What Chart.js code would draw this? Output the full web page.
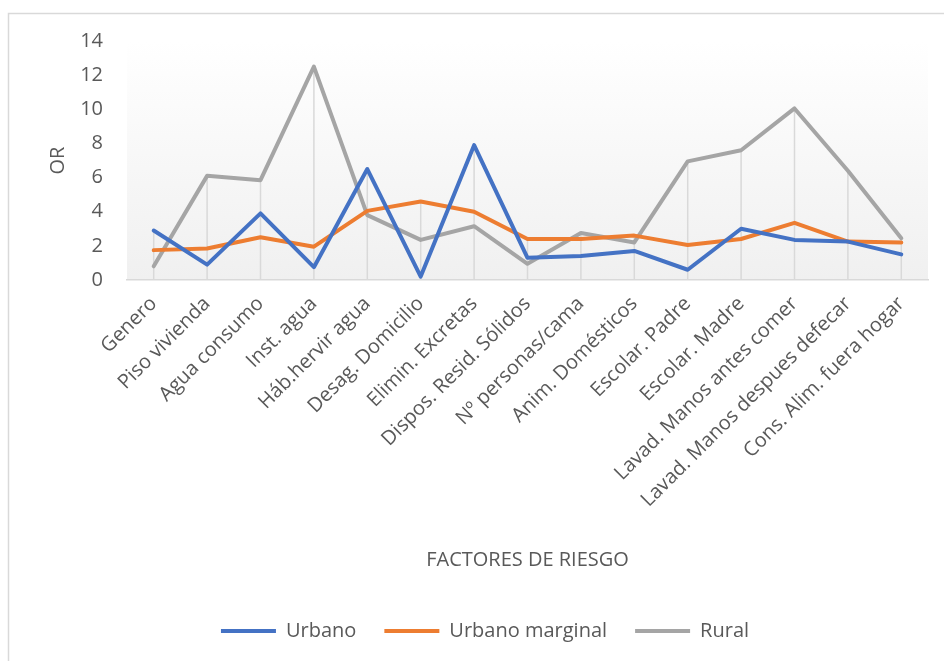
<!DOCTYPE html>
<html>
<head>
<meta charset="utf-8">
<script src="https://cdn.jsdelivr.net/npm/chart.js@4.4.0/dist/chart.umd.min.js"></script>
<style>
  html, body { margin: 0; padding: 0; background: #fff; }
  #wrap { width: 944px; height: 661px; }
</style>
</head>
<body>
<div id="wrap"><canvas id="grafico" width="944" height="661"></canvas></div>
<script>
// datos (OR por factor de riesgo)
const categorias = ['Genero', 'Piso vivienda', 'Agua consumo', 'Inst. agua', 'Háb.hervir agua',
    'Desag. Domicilio', 'Elimin. Excretas', 'Dispos. Resid. Sólidos', 'Nº personas/cama',
    'Anim. Domésticos', 'Escolar. Padre', 'Escolar. Madre', 'Lavad. Manos antes comer',
    'Lavad. Manos despues defecar', 'Cons. Alim. fuera hogar'];
const urbano = [2.9, 0.9, 3.9, 0.75, 6.5, 0.2, 7.9, 1.3, 1.4, 1.7, 0.6, 3.0, 2.35, 2.25, 1.5];
const urbanoMarginal = [1.75, 1.85, 2.5, 1.95, 4.05, 4.6, 4.0, 2.4, 2.4, 2.6, 2.05, 2.4, 3.35, 2.25, 2.2];
const rural = [0.8, 6.1, 5.85, 12.5, 3.8, 2.35, 3.15, 0.95, 2.75, 2.2, 6.95, 7.6, 10.05, 6.4, 2.45];
const yTicks = [0, 2, 4, 6, 8, 10, 12, 14];

var gris = '#595959';
var fuente = "'Open Sans', sans-serif";

// marco + fondo degradado del area de trazado
const fondo = {
    id: 'fondo',
    beforeDraw(chart) {
        const ctx = chart.ctx;
        const a = chart.chartArea;
        ctx.save();
        ctx.fillStyle = '#ffffff';
        ctx.fillRect(0, 0, chart.width, chart.height);
        ctx.strokeStyle = '#d9d9d9';
        ctx.lineWidth = 1.5;
        ctx.strokeRect(8.5, 13.5, 2000, 2000);
        const g = ctx.createLinearGradient(0, a.top, 0, a.bottom);
        g.addColorStop(0, '#ffffff');
        g.addColorStop(1, '#f0f0f0');
        ctx.fillStyle = g;
        ctx.fillRect(a.left, a.top, a.right - a.left, a.bottom - a.top);
        ctx.restore();
    }
};

// lineas de proyeccion desde el valor mas alto hasta el eje
const proyeccion = {
    id: 'proyeccion',
    beforeDatasetsDraw(chart) {
        const ctx = chart.ctx;
        const x = chart.scales.x, y = chart.scales.y;
        ctx.save();
        ctx.strokeStyle = '#d9d9d9';
        ctx.lineWidth = 1.5;
        for (let i = 0; i < categorias.length; i++) {
            const tope = Math.max(urbano[i], urbanoMarginal[i], rural[i]);
            const px = x.getPixelForValue(i);
            ctx.beginPath();
            ctx.moveTo(px, y.getPixelForValue(tope));
            ctx.lineTo(px, y.getPixelForValue(0));
            ctx.stroke();
        }
        ctx.restore();
    }
};

function serie(nombre, datos, color) {
    return {
        label: nombre,
        data: datos,
        borderColor: color,
        backgroundColor: color,
        borderWidth: 4,
        pointRadius: 0,
        borderJoinStyle: 'round',
        borderCapStyle: 'round',
        tension: 0
    };
}

new Chart(document.getElementById('grafico'), {
    type: 'line',
    data: {
        labels: categorias,
        datasets: [
            serie('Urbano', urbano, '#4472C4'),
            serie('Urbano marginal', urbanoMarginal, '#ED7D31'),
            serie('Rural', rural, '#A5A5A5')
        ]
    },
    options: {
        responsive: false,
        animation: false,
        layout: { padding: { left: 42, right: 16, top: 41, bottom: 10 } },
        plugins: {
            tooltip: { enabled: false },
            legend: {
                position: 'bottom',
                labels: {
                    boxWidth: 55,
                    boxHeight: 4,
                    padding: 28,
                    color: gris,
                    font: { family: fuente, size: 20 },
                    generateLabels(chart) {
                        const items = Chart.defaults.plugins.legend.labels.generateLabels(chart);
                        items.forEach(function (it) { it.fillStyle = it.strokeStyle; it.lineWidth = 0; });
                        return items;
                    }
                }
            }
        },
        scales: {
            x: {
                offset: true,
                grid: { display: false, drawTicks: false, offset: true },
                border: { display: true, color: '#d9d9d9', width: 1.5 },
                ticks: {
                    autoSkip: false, minRotation: 45, maxRotation: 45, padding: 12,
                    color: gris, font: { family: fuente, size: 20 }
                },
                title: {
                    display: true, text: 'FACTORES DE RIESGO', color: gris,
                    font: { family: fuente, size: 20 }, padding: { top: 4, bottom: 21 }
                },
                afterFit(s) { s.height = 313; }
            },
            y: {
                min: 0, max: 14,
                afterBuildTicks(s) { s.ticks = yTicks.map(v => ({ value: v })); },
                grid: { display: false, drawTicks: false },
                border: { display: false },
                ticks: { padding: 24, color: gris, font: { family: fuente, size: 20 } },
                title: {
                    display: true, text: 'OR', color: gris,
                    font: { family: fuente, size: 20 }, padding: { top: 4, bottom: 4 }
                },
                afterFit(s) { s.width = 85; }
            }
        }
    },
    plugins: [fondo, proyeccion]
});
</script>
</body>
</html>
